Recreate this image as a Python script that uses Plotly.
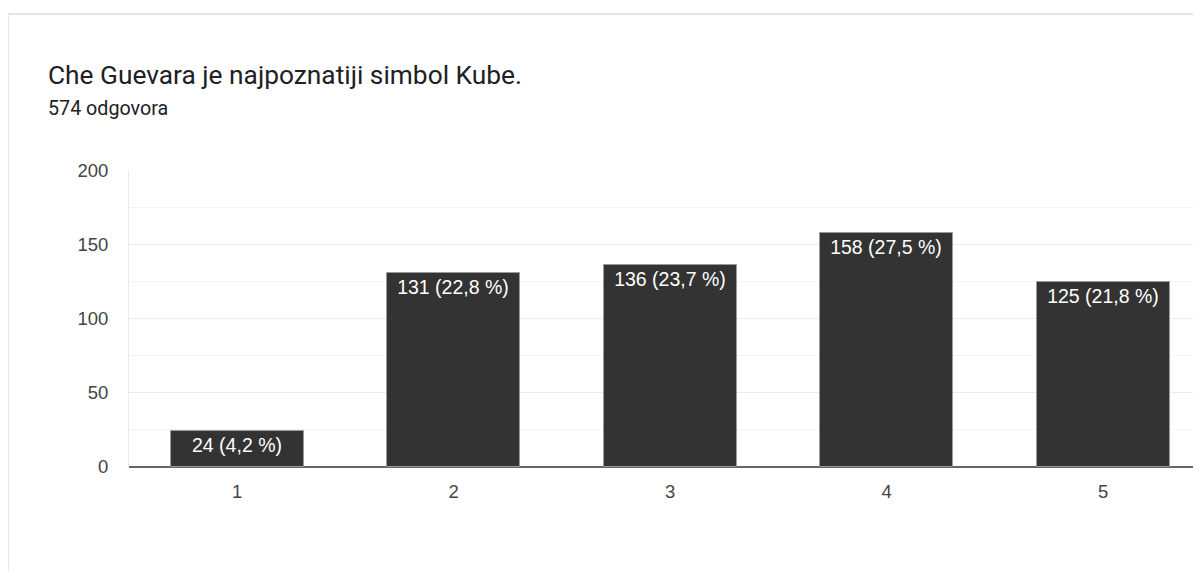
import plotly.graph_objects as go

title_text = "Che Guevara je najpoznatiji simbol Kube."
subtitle_text = "574 odgovora"
categories = [1, 2, 3, 4, 5]
counts = [24, 131, 136, 158, 125]
percents = ["4,2", "22,8", "23,7", "27,5", "21,8"]
y_ticks = [0, 50, 100, 150, 200]

# the page body has an 8px margin on every side, so the figure starts at
# (8, 8) on screen; keep it inside the body so the page never scrolls
OFF = 8
W, H = 1201 - 2 * OFF, 579 - 2 * OFF
L, R, T, B = 129 - OFF, 0, 170 - OFF, 579 - 2 * OFF - (467 - OFF)
pw, ph = W - L - R, H - T - B


def px_x(x):
    return (x - OFF - L) / pw


def px_y(y):
    return 1 - (y - OFF - T) / ph


labels = [f"{c} ({p} %)" for c, p in zip(counts, percents)]

fig = go.Figure(
    go.Bar(
        x=categories,
        y=counts,
        width=0.614,
        text=labels,
        textposition="inside",
        insidetextanchor="end",
        textangle=0,
        constraintext="none",
        textfont=dict(family="Arial, Liberation Sans", size=19.5, color="white"),
        marker=dict(color="#333333", line=dict(color="#9a9a9a", width=1)),
        hoverinfo="skip",
    )
)

fig.update_layout(
    width=W,
    height=H,
    margin=dict(l=L, r=R, t=T, b=B),
    paper_bgcolor="white",
    plot_bgcolor="white",
    showlegend=False,
    bargap=0,
    font=dict(family="Arial, Liberation Sans", color="#444444"),
    shapes=[
        # card border
        dict(type="line", xref="paper", yref="paper",
             x0=px_x(8), x1=px_x(1210), y0=px_y(14), y1=px_y(14),
             line=dict(color="#dadce0", width=1.5)),
        dict(type="line", xref="paper", yref="paper",
             x0=px_x(8), x1=px_x(8), y0=px_y(14), y1=px_y(590),
             line=dict(color="#dadce0", width=1.5)),
    ],
    annotations=[
        dict(text=title_text, xref="paper", yref="paper", x=px_x(46), y=px_y(75),
             xanchor="left", yanchor="middle", showarrow=False,
             font=dict(family="Roboto", size=26.3, color="#202124")),
        dict(text=subtitle_text, xref="paper", yref="paper", x=px_x(46), y=px_y(108),
             xanchor="left", yanchor="middle", showarrow=False,
             font=dict(family="Roboto", size=19.7, color="#202124")),
    ],
)

fig.update_xaxes(
    range=[0.5, 0.5 + pw / 216.5],
    tickvals=categories,
    ticks="outside",
    ticklen=8,
    tickcolor="rgba(0,0,0,0)",
    tickfont=dict(size=18.5, color="#444444"),
    showgrid=False,
    showline=False,
    zeroline=False,
)

fig.update_yaxes(
    range=[0, 200.4],
    tickvals=y_ticks,
    ticks="outside",
    ticklen=16,
    tickcolor="rgba(0,0,0,0)",
    tickfont=dict(size=18.5, color="#444444"),
    gridcolor="#ebebeb",
    gridwidth=1,
    minor=dict(dtick=25, showgrid=True, gridcolor="#f4f4f4", gridwidth=1),
    showline=True,
    linecolor="#ebebeb",
    linewidth=1,
    zeroline=True,
    zerolinecolor="#666666",
    zerolinewidth=2,
)

fig.write_html("out.html")
